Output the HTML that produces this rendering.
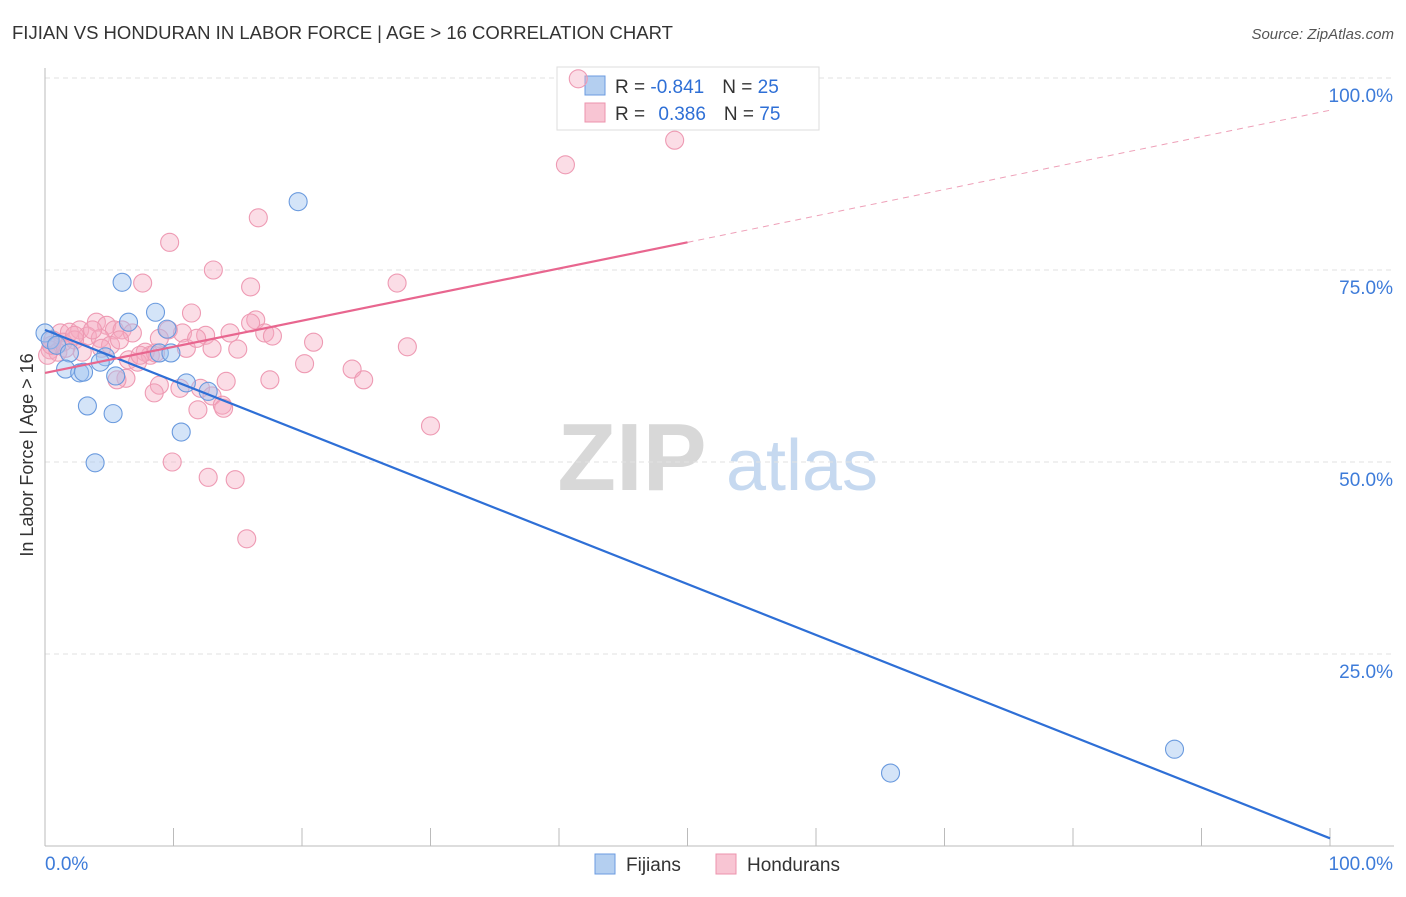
<!DOCTYPE html>
<html><head><meta charset="utf-8"><style>
body{margin:0;background:#fff;font-family:"Liberation Sans",sans-serif}
svg text{font-family:"Liberation Sans",sans-serif}
</style></head><body>
<svg width="1406" height="892" xmlns="http://www.w3.org/2000/svg">
<text x="12" y="39" font-size="18" fill="#333" textLength="661" lengthAdjust="spacingAndGlyphs">FIJIAN VS HONDURAN IN LABOR FORCE | AGE &gt; 16 CORRELATION CHART</text>
<text x="1394" y="39" font-size="15" fill="#555" text-anchor="end" font-style="italic">Source: ZipAtlas.com</text>
<g>
<text x="632" y="490" font-size="96" fill="#d8d8d8" font-family="Liberation Serif" text-anchor="middle" font-weight="bold">ZIP</text>
<text x="802" y="490" font-size="72" fill="#c6d9f0" text-anchor="middle">atlas</text>
</g>
<g id="grid"></g>
<g id="axes"></g>
<text transform="translate(33,455) rotate(-90)" font-size="18" fill="#333" text-anchor="middle">In Labor Force | Age &gt; 16</text>
<g>
<rect x="557" y="67" width="262" height="63" fill="#fff" stroke="#ddd"/>
<rect x="585" y="76" width="20" height="19" fill="#b4cff0" stroke="#6b9be0"/>
<rect x="585" y="103" width="20" height="19" fill="#f8c5d3" stroke="#ec93ad"/>
<text x="615" y="93" font-size="19" fill="#333">R = <tspan fill="#2e6fd6">-0.841</tspan><tspan dx="18">N = </tspan><tspan fill="#2e6fd6">25</tspan></text>
<text x="615" y="120" font-size="19" fill="#333">R = <tspan fill="#2e6fd6" dx="8">0.386</tspan><tspan dx="18">N = </tspan><tspan fill="#2e6fd6">75</tspan></text>
</g>
<g id="marks"></g>
<g id="lines"></g>
<g>
<rect x="595" y="854" width="20" height="20" fill="#b4cff0" stroke="#6b9be0"/>
<text x="626" y="871" font-size="19" fill="#333">Fijians</text>
<rect x="716" y="854" width="20" height="20" fill="#f8c5d3" stroke="#ec93ad"/>
<text x="747" y="871" font-size="19" fill="#333">Hondurans</text>
</g>
</svg>
<script>
const fijX=[19.7,6.0,8.6,6.5,9.5,8.9,9.8,0,0.4,0.9,1.9,4.7,4.3,1.6,2.7,3.0,5.5,11.0,12.7,3.3,5.3,10.6,3.9,65.8,87.9];
const fijY=[83.9,73.4,69.5,68.2,67.3,64.2,64.2,66.8,65.9,65.2,64.2,63.7,63.0,62.1,61.6,61.7,61.2,60.3,59.2,57.3,56.3,53.9,49.9,9.5,12.6];
const honX=[41.5,49.0,40.5,16.6,9.7,13.1,7.6,16.0,27.4,11.4,16.4,16.0,4.0,4.8,5.4,6.0,6.8,1.2,1.9,2.7,3.3,4.3,0.6,1.4,2.3,9.6,10.7,12.5,17.1,17.7,20.9,11.0,13.0,15.0,28.2,0.4,1.0,2.9,7.8,8.2,8.6,6.5,7.2,20.2,23.9,24.8,17.5,14.1,6.3,5.6,8.9,10.5,12.1,8.5,13.0,11.9,13.8,13.9,30.0,9.9,12.7,14.8,15.7,0.2,0.5,3.7,5.1,7.4,11.8,14.4,5.8,1.6,2.3,4.4,8.9];
const honY=[99.9,91.9,88.7,81.8,78.6,75.0,73.3,72.8,73.3,69.4,68.5,68.1,68.2,67.8,67.2,67.2,66.8,66.8,66.9,67.2,66.4,66.1,65.9,65.6,65.9,67.2,66.8,66.5,66.8,66.4,65.6,64.8,64.8,64.7,65.0,64.6,64.3,64.3,64.3,63.9,64.2,63.3,63.0,62.8,62.1,60.7,60.7,60.5,60.9,60.7,60.0,59.6,59.6,59.0,58.6,56.8,57.4,57.0,54.7,50.0,48.0,47.7,40.0,63.9,65.2,67.2,65.2,63.9,66.1,66.8,65.9,64.8,66.5,64.8,66.1];
const fijTrend=[[0,67.2],[100,1.0]];
const honTrendSolid=[[0,61.6],[50,78.6]];
const honTrendDash=[[50,78.6],[100,95.8]];
const yTicks=[25,50,75,100];
const yTickLabels=["25.0%","50.0%","75.0%","100.0%"];
const xTicks=[0,10,20,30,40,50,60,70,80,90,100];

const NS="http://www.w3.org/2000/svg";
const sx=v=>45+v*12.85;
const sy=v=>846-v*7.68;
function mk(tag,attrs,parent){const e=document.createElementNS(NS,tag);for(const k in attrs)e.setAttribute(k,attrs[k]);parent.appendChild(e);return e;}
const grid=document.getElementById('grid'),axes=document.getElementById('axes'),marks=document.getElementById('marks'),lines=document.getElementById('lines');
yTicks.forEach((t,i)=>{
 const l=mk('line',{x1:45,x2:1394,y1:sy(t),y2:sy(t),stroke:'#e2e2e2','stroke-dasharray':'5,4'},grid);
 
 
 const tx=mk('text',{x:1393,y:sy(t)+24,'font-size':19,fill:'#3d7bd9','text-anchor':'end'},axes);
 tx.textContent=yTickLabels[i];
 
 
});
let a=mk('line',{x1:45,x2:45,y1:68,y2:846,stroke:'#bbb'},axes);


a=mk('line',{x1:45,x2:1394,y1:846,y2:846,stroke:'#bbb'},axes);


xTicks.forEach(t=>{
 const l=mk('line',{x1:sx(t),x2:sx(t),y1:828,y2:846,stroke:'#bbb'},axes);
 
 
});
let t0=mk('text',{x:45,y:870,'font-size':19,fill:'#3d7bd9'},axes);t0.textContent='0.0%';


let t1=mk('text',{x:1393,y:870,'font-size':19,fill:'#3d7bd9','text-anchor':'end'},axes);t1.textContent='100.0%';


honX.forEach((x,i)=>{
 const c=mk('circle',{cx:sx(x),cy:sy(honY[i]),r:9,fill:'rgba(245,170,192,0.4)',stroke:'#ee9ab3','stroke-width':1.1},marks);
 
 
});
fijX.forEach((x,i)=>{
 const c=mk('circle',{cx:sx(x),cy:sy(fijY[i]),r:9,fill:'rgba(160,195,240,0.45)',stroke:'#6a9ade','stroke-width':1.1},marks);
 
 
});
function seg(p,st,w,dash,name){const l=mk('line',{x1:sx(p[0][0]),y1:sy(p[0][1]),x2:sx(p[1][0]),y2:sy(p[1][1]),stroke:st,'stroke-width':w},lines);if(dash)l.setAttribute('stroke-dasharray',dash);
 
 }
seg(fijTrend,'#2e6fd6',2.2,null,'fijian-trend-line');
seg(honTrendSolid,'#e8668f',2.2,null,'honduran-trend-line');
seg(honTrendDash,'#eea0b8',1,'6,5','honduran-trend-extension');
</script>
</body></html>
